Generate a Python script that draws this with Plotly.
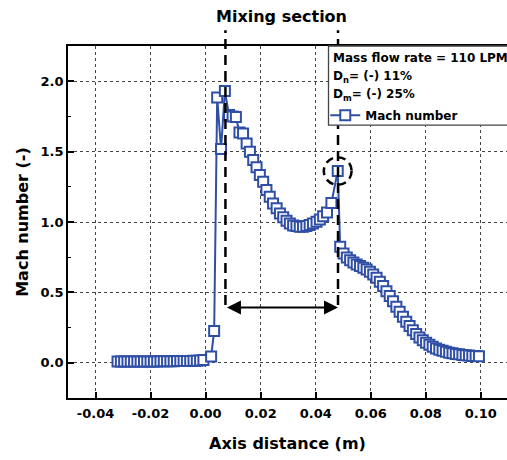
import plotly.graph_objects as go

# ---------------- data ----------------
axis_distance = [
    -0.0320, -0.0308, -0.0296, -0.0284, -0.0272, -0.0260, -0.0248, -0.0236, -0.0224,
    -0.0212, -0.0200, -0.0188, -0.0176, -0.0164, -0.0152, -0.0140, -0.0128, -0.0116,
    -0.0104, -0.0092, -0.0080, -0.0068, -0.0056, -0.0044, -0.0032, -0.0020, -0.0008,
    0.0020, 0.0031, 0.0042, 0.0056, 0.0070, 0.0085, 0.0098, 0.0110, 0.0123, 0.0136,
    0.0149, 0.0161, 0.0173, 0.0185, 0.0197, 0.0209, 0.0221, 0.0233, 0.0245, 0.0258,
    0.0270, 0.0282, 0.0294, 0.0306, 0.0318, 0.0330, 0.0342, 0.0354, 0.0366, 0.0378,
    0.0390, 0.0403, 0.0415, 0.0427, 0.0441, 0.0457, 0.0480,
    0.0489, 0.0501, 0.0513, 0.0525, 0.0537, 0.0549, 0.0561, 0.0573, 0.0585, 0.0597,
    0.0609, 0.0621, 0.0633, 0.0645, 0.0657, 0.0669, 0.0681, 0.0693, 0.0705, 0.0717,
    0.0729, 0.0741, 0.0753, 0.0765, 0.0777, 0.0789, 0.0801, 0.0813, 0.0825, 0.0837,
    0.0849, 0.0861, 0.0873, 0.0885, 0.0897, 0.0909, 0.0921, 0.0933, 0.0945, 0.0957,
    0.0969, 0.0981, 0.0993,
]
mach_number = [
    0.010, 0.010, 0.010, 0.010, 0.010, 0.010, 0.010, 0.010, 0.010,
    0.010, 0.010, 0.010, 0.010, 0.011, 0.011, 0.011, 0.011, 0.011,
    0.012, 0.012, 0.012, 0.013, 0.013, 0.014, 0.015, 0.017, 0.020,
    0.045, 0.225, 1.885, 1.518, 1.930, 1.760, 1.750, 1.745, 1.635, 1.628,
    1.558, 1.499, 1.440, 1.388, 1.333, 1.286, 1.227, 1.179, 1.132, 1.097,
    1.061, 1.033, 1.009, 0.990, 0.976, 0.971, 0.966, 0.966, 0.971, 0.978,
    0.990, 1.001, 1.018, 1.040, 1.068, 1.135, 1.362,
    0.824, 0.777, 0.748, 0.729, 0.713, 0.699, 0.687, 0.675, 0.663, 0.646,
    0.628, 0.604, 0.575, 0.545, 0.509, 0.474, 0.438, 0.398, 0.362, 0.327,
    0.291, 0.261, 0.232, 0.204, 0.180, 0.161, 0.142, 0.128, 0.114, 0.102,
    0.092, 0.085, 0.078, 0.071, 0.067, 0.062, 0.060, 0.056, 0.054, 0.051,
    0.049, 0.048, 0.047,
]
x_tick_values = [-0.04, -0.02, 0.00, 0.02, 0.04, 0.06, 0.08, 0.10]
x_tick_labels = ["-0.04", "-0.02", "0.00", "0.02", "0.04", "0.06", "0.08", "0.10"]
y_tick_values = [0.0, 0.5, 1.0, 1.5, 2.0]
y_tick_labels = ["0.0", "0.5", "1.0", "1.5", "2.0"]
mixing_start = 0.0072
mixing_end = 0.0481
peak_x = 0.0480
peak_y = 1.362
info_lines = ["Mass flow rate = 110 LPM", "D<sub>n</sub>= (-) 11%", "D<sub>m</sub>= (-) 25%"]

# ---------------- style ----------------
FONT = "DejaVu Sans"
BLUE = "#2F4FA6"
X_RANGE = [-0.05, 0.1095]
Y_RANGE = [-0.25, 2.25]

def ypaper(v):
    return (v - Y_RANGE[0]) / (Y_RANGE[1] - Y_RANGE[0])

fig = go.Figure()
fig.add_trace(go.Scatter(
    x=axis_distance, y=mach_number, mode="lines+markers", name="Mach number",
    line=dict(color=BLUE, width=2),
    marker=dict(symbol="square", size=10, color="white", line=dict(color=BLUE, width=2)),
))

# dashed mixing-section lines
for xv in (mixing_start, mixing_end):
    fig.add_shape(type="line", xref="x", yref="paper", x0=xv, x1=xv,
                  y0=ypaper(0.41), y1=1.045,
                  line=dict(color="black", width=2.5, dash="10px,6px"), layer="above")

# legend / info box (drawn over the dashed line)
fig.add_shape(type="path", xref="paper", yref="paper",
              path="M 0.5934,0.775 L 0.5934,1 L 1.2,1 L 1.2,0.775 Z",
              fillcolor="white", line=dict(color="#444", width=1.3), layer="above")

info_y = [0.9645, 0.913, 0.862]
for txt, yy in zip(info_lines, info_y):
    fig.add_annotation(xref="paper", yref="paper", x=0.600, y=yy, text=txt,
                       showarrow=False, xanchor="left", yanchor="middle",
                       font=dict(family=FONT, size=12, color="black", weight="bold"))

# double arrow
fig.add_annotation(x=mixing_end, y=0.393, ax=mixing_start, ay=0.393,
                   xref="x", yref="y", axref="x", ayref="y", text="",
                   showarrow=True, arrowhead=2, arrowside="end+start",
                   arrowsize=1.4, arrowwidth=2, arrowcolor="black")

# dashed circle around the second peak
rx, ry = 0.00505, 0.098
fig.add_shape(type="circle", xref="x", yref="y",
              x0=peak_x - rx, x1=peak_x + rx, y0=peak_y - ry, y1=peak_y + ry,
              line=dict(color="black", width=2.5, dash="8px,5px"), layer="above")

fig.add_annotation(xref="paper", yref="paper", x=0.486, y=1.0826, text="Mixing section",
                   showarrow=False, xanchor="center", yanchor="middle",
                   font=dict(family=FONT, size=16, color="black", weight="bold"))

axis_common = dict(
    showline=True, linecolor="black", linewidth=1.6,
    ticks="inside", ticklen=6, tickwidth=1.6, tickcolor="black",
    showgrid=True, gridcolor="#444", griddash="dot", gridwidth=1.2,
    zeroline=False, automargin=False,
    tickfont=dict(family=FONT, size=13, color="black", weight="bold"),
)

fig.update_xaxes(
    range=X_RANGE, tickvals=x_tick_values, ticktext=x_tick_labels, mirror=True,
    ticklabelstandoff=3,
    title=dict(text="Axis distance (m)", standoff=17,
               font=dict(family=FONT, size=16, color="black", weight="bold")),
    **axis_common,
)
fig.update_yaxes(
    range=Y_RANGE, tickvals=y_tick_values, ticktext=y_tick_labels,
    minor=dict(ticks="inside", ticklen=3, tickwidth=1.4, tickcolor="black",
               tickvals=[-0.25, 0.25, 0.75, 1.25, 1.75, 2.25], showgrid=False),
    title=dict(text="Mach number (-)", standoff=8,
               font=dict(family=FONT, size=16, color="black", weight="bold")),
    **axis_common,
)

fig.update_layout(
    width=507, height=460, autosize=False,
    margin=dict(l=67.5, r=0, t=45.8, b=62.1, pad=0),
    plot_bgcolor="white", paper_bgcolor="white",
    showlegend=True,
    legend=dict(x=0.586, y=0.8035, xanchor="left", yanchor="middle",
                bgcolor="rgba(0,0,0,0)", borderwidth=0,
                font=dict(family=FONT, size=12, color="black", weight="bold")),
    font=dict(family=FONT),
)

fig.write_html(
    "out.html",
    config={"displayModeBar": False},
    post_script="document.body.style.margin='0';document.body.style.padding='0';"
                "document.body.style.overflow='hidden';",
)
